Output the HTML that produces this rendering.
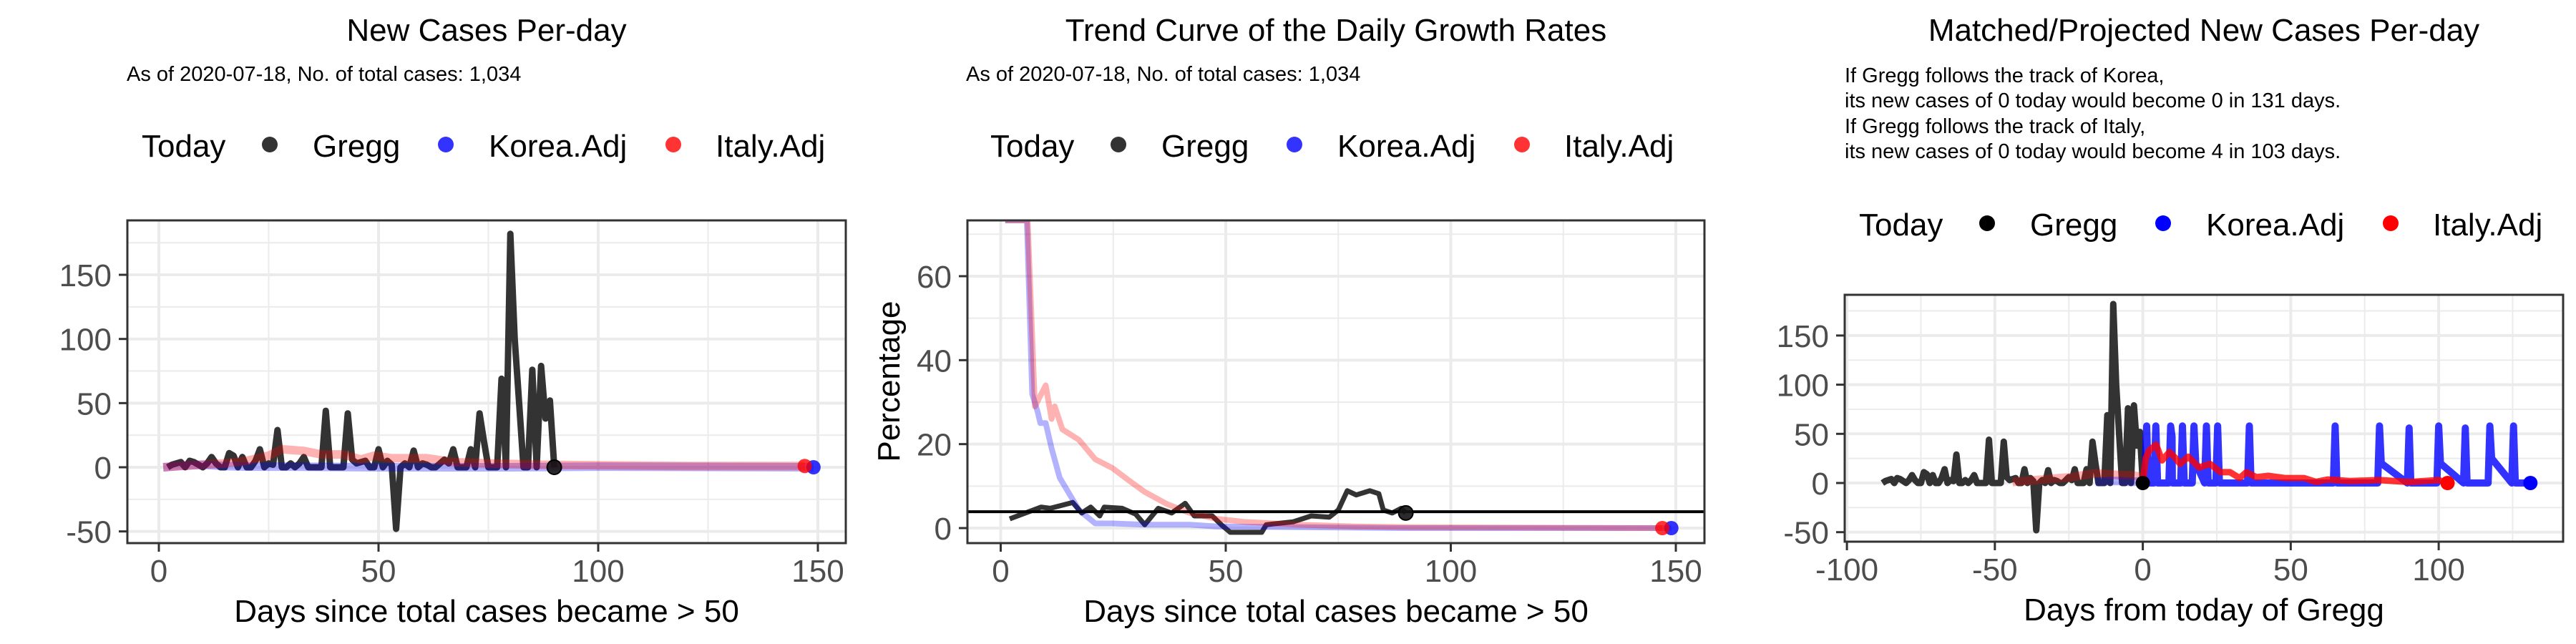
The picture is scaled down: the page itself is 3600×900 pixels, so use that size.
<!DOCTYPE html>
<html><head><meta charset="utf-8">
<style>
html,body{margin:0;padding:0;background:#fff;}
svg{display:block;font-family:"Liberation Sans",Arial,sans-serif;}
</style></head>
<body>
<svg id="chart" width="3600" height="900" viewBox="0 0 3600 900" xmlns="http://www.w3.org/2000/svg">
<defs>
<clipPath id="c1"><rect x="178" y="308" width="1004" height="451"/></clipPath>
<clipPath id="c2"><rect x="1352" y="308" width="1030" height="451"/></clipPath>
<clipPath id="c3"><rect x="2578" y="412" width="1004" height="345"/></clipPath>
</defs>
<text x="680" y="57" font-size="44" text-anchor="middle">New Cases Per-day</text>
<text x="177" y="113" font-size="29">As of 2020-07-18, No. of total cases: 1,034</text>
<text x="1867" y="57" font-size="44" text-anchor="middle">Trend Curve of the Daily Growth Rates</text>
<text x="1350" y="113" font-size="29">As of 2020-07-18, No. of total cases: 1,034</text>
<text x="3080" y="57" font-size="44" text-anchor="middle">Matched/Projected New Cases Per-day</text>
<g font-size="29">
<text x="2578" y="115">If Gregg follows the track of Korea,</text>
<text x="2578" y="150">its new cases of 0 today would become 0 in 131 days.</text>
<text x="2578" y="186">If Gregg follows the track of Italy,</text>
<text x="2578" y="221">its new cases of 0 today would become 4 in 103 days.</text>
</g>
<g id="layer"></g>
</svg>
<script>
// ---- data ----
const greggStartDay = 2;
const greggCases = [0,2,3,4,0,5,4,2,0,3,8,3,0,0,11,9,0,8,0,0,5,14,0,3,2,29,0,0,3,0,3,8,0,0,0,0,44,0,0,0,0,42,6,3,4,5,0,0,14,0,5,2,-48,0,3,0,13,0,3,2,0,0,3,6,3,14,0,0,0,14,0,42,20,0,0,0,69,0,182,100,50,0,0,76,0,79,38,52,0];
const koreaAdjDays = [1,5,10,15,20,30,50,80,100,149];
const koreaAdjCases = [0,1,2,1,0.5,0.5,0,0,0.5,0];
const italyAdjDays = [1,5,10,15,20,25,28,33,37,42,46,49,53,61,67,75,86,100,120,147];
const italyAdjCases = [0,1,2,3,5,9,14,12.7,10,10,6,9,7,7,4,3,2,1.5,1,1];

const greggRateDays = [2,9,11,16,18,20,22,23,27,30,32,35,38,41,43,47,49,51,58,59,65,69,73,75,77,79,82,84,85,87,89,90];
const greggRates = [2.2,5,4.7,6.1,3.6,5,2.9,5,4.7,3.3,0.8,4.7,3.6,5.9,2.9,2.9,0.8,-1,-1,0.8,1.5,2.9,2.6,4.3,8.9,7.9,8.9,8.2,4.3,3.6,4.7,3.6];
const italyRateDays = [1,6,7.6,10,11.3,12,13.7,17.4,21,24.8,28.4,32,37,42,48,54,66,79,91,120,147];
const italyRates = [120,120,29,34,26,29,23.5,21,16.4,14.3,11.4,8.6,5.7,3.6,2.2,1.5,0.8,0.4,0.2,0.1,0];
const koreaRateDays = [1,5.8,7,8.2,8.8,10,11.3,13.1,15,17.4,21,24.8,32,42,48,90,149];
const koreaRates = [120,120,32,27.7,25,25,19,12,8.6,4.3,1.1,1.1,0.8,0.8,0.4,0,0];
const refRate = 3.9;

const koreaProjDays = [0,0.6,1.3,1.9,3.8,4.4,4.8,5,8.8,9.4,9.9,10,12.8,13.4,14,16.7,17.3,17.9,20.9,21.5,22.1,24.7,25.3,25.9,35.4,36,36.6,64.4,65,65.6,79.4,80,80.6,89.4,90,90.6,99.4,100,100.6,108.4,109,109.6,116.7,117.3,117.9,124.7,125.3,125.9,131];
const koreaProj =     [0,0,58,0,0,58,20,0,0,58,47,0,0,58,0,0,58,20,0,58,0,0,58,0,0,58,0,0,58,0,0,58,20,0,56,0,0,58,20,0,56,0,0,58,25,0,58,0,0];
const italyProjDays = [0,1,2.1,4.5,6.5,9,11,12.6,15.4,19,22.7,26.3,29.5,32.7,35,38.4,42.4,48,54.5,58.5,62.6,70,80,90,100,103];
const italyProj =     [0,25,33,39,23,31.5,25.5,19.4,26.7,15.8,19.4,11,11,5,11,6,7.3,5,5,1.2,3.6,2,3,1,3,0];
const italyMatchDays = [-44,-40,-36,-32,-28,-24,-20,-16,-12,-8,-4,0];
const italyMatch = [1,2,3,4,5,6,8,10,9,8,8,6];
const koreaMatchDays = [-16,-12,-8,-4,0];
const koreaMatch = [1,2,2,1,2];
const todayProj = 0;

const y1Ticks = [-50,0,50,100,150], y1Minor=[-25,25,75,125,175];
const x1Ticks = [0,50,100,150], x1Minor=[25,75,125];
const y2Ticks = [0,20,40,60], y2Minor=[10,30,50,70];
const y3Ticks = [-50,0,50,100,150], y3Minor=[-25,25,75,125,175];
const x3Ticks = [-100,-50,0,50,100], x3Minor=[-75,-25,25,75,125];

// ---- helpers ----
const NS='http://www.w3.org/2000/svg';
const layer=document.getElementById('layer');
function mk(tag,attrs,parent){const e=document.createElementNS(NS,tag);for(const k in attrs)e.setAttribute(k,attrs[k]);(parent||layer).appendChild(e);return e;}

const P1={l:178,r:1182,t:308,b:759,x0:222,xs:6.14,y0:653,ys:1.793,clip:'c1'};
const P2={l:1352,r:2382,t:308,b:759,x0:1398.5,xs:6.29,y0:738,ys:5.867,clip:'c2'};
const P3={l:2578,r:3582,t:412,b:757,x0:2994.6,xs:4.135,y0:675,ys:1.374,clip:'c3'};
const px=(P,v)=>P.x0+v*P.xs;
const py=(P,v)=>P.y0-v*P.ys;

function panel(P,name,xT,xM,yT,yM){
  const g=mk('g',{});
  
  
  yM.forEach(v=>mk('line',{x1:P.l,x2:P.r,y1:py(P,v),y2:py(P,v),stroke:'#ebebeb','stroke-width':2},g));
  xM.forEach(v=>mk('line',{x1:px(P,v),x2:px(P,v),y1:P.t,y2:P.b,stroke:'#ebebeb','stroke-width':2},g));
  yT.forEach(v=>mk('line',{x1:P.l,x2:P.r,y1:py(P,v),y2:py(P,v),stroke:'#ebebeb','stroke-width':4},g));
  xT.forEach(v=>mk('line',{x1:px(P,v),x2:px(P,v),y1:P.t,y2:P.b,stroke:'#ebebeb','stroke-width':4},g));
  const ax=mk('g',{});
  
  
  yT.forEach(v=>{
    mk('line',{x1:P.l-12,x2:P.l,y1:py(P,v),y2:py(P,v),stroke:'#333','stroke-width':3},ax);
    const t=mk('text',{x:P.l-22,y:py(P,v)+16,'font-size':44,'text-anchor':'end',fill:'#4d4d4d'},ax);
    
    
    t.textContent=v;
  });
  xT.forEach(v=>{
    mk('line',{x1:px(P,v),x2:px(P,v),y1:P.b,y2:P.b+12,stroke:'#333','stroke-width':3},ax);
    const t=mk('text',{x:px(P,v),y:P.b+54,'font-size':44,'text-anchor':'middle',fill:'#4d4d4d'},ax);
    
    
    t.textContent=v;
  });
}
function border(P,name){
  const r=mk('rect',{x:P.l,y:P.t,width:P.r-P.l,height:P.b-P.t,fill:'none',stroke:'#333','stroke-width':3});
  
  
}
function line(P,xs,ys,color,w,name,clampMax){
  const pts=xs.map((x,i)=>{let v=ys[i];if(clampMax!==undefined&&v>clampMax)v=clampMax;return px(P,x).toFixed(1)+','+py(P,v).toFixed(1);}).join(' ');
  const e=mk('polyline',{points:pts,fill:'none',stroke:color,'stroke-width':w,'stroke-linejoin':'round','stroke-linecap':'butt','clip-path':'url(#'+P.clip+')'});
  
  
  return e;
}
function dot(P,x,y,color,name,stroke){
  const e=mk('circle',{cx:px(P,x),cy:py(P,y),r:10,fill:color,stroke:stroke||'none','stroke-width':2});
  
  
}
function legend(dx,yb,yd,solid){
  const g=mk('g',{'font-size':44});
  
  
  const t=mk('text',{x:198+dx,y:yb},g);t.textContent='Today';
  
  
  const items=[['Gregg',solid?'#000':'#333',377,437],['Korea.Adj',solid?'#00f':'rgba(0,0,255,0.8)',623,683],['Italy.Adj',solid?'#f00':'rgba(255,0,0,0.8)',941,1000]];
  items.forEach(it=>{
    const c=mk('circle',{cx:it[2]+dx,cy:yd,r:11,fill:it[1]},g);
    
    
    const l=mk('text',{x:it[3]+dx,y:yb},g);l.textContent=it[0];
    
    
  });
}

// ---- panel 1 ----
panel(P1,'panel1',x1Ticks,x1Minor,y1Ticks,y1Minor);
const gDays=greggCases.map((_,i)=>greggStartDay+i);
line(P1,gDays,greggCases,'#333',9,'gregg-cases-line');
line(P1,koreaAdjDays,koreaAdjCases,'rgba(0,0,255,0.3)',12,'korea-adj-line');
line(P1,italyAdjDays,italyAdjCases,'rgba(255,0,0,0.3)',12,'italy-adj-line');
dot(P1,gDays[gDays.length-1],greggCases[greggCases.length-1],'rgba(20,20,20,0.9)','gregg-today-point','#000');
dot(P1,koreaAdjDays[koreaAdjDays.length-1],koreaAdjCases[koreaAdjCases.length-1],'rgba(0,0,255,0.8)','korea-today-point');
dot(P1,italyAdjDays[italyAdjDays.length-1],italyAdjCases[italyAdjCases.length-1],'rgba(255,0,0,0.8)','italy-today-point');
border(P1,'panel1');
legend(0,219,202,false);
let at=mk('text',{x:680,y:869,'font-size':44,'text-anchor':'middle'});at.textContent='Days since total cases became > 50';



// ---- panel 2 ----
panel(P2,'panel2',x1Ticks,x1Minor,y2Ticks,y2Minor);
const ymax2=(P2.y0-P2.t)/P2.ys;
line(P2,greggRateDays,greggRates,'#333',7,'gregg-growth-line');
line(P2,koreaRateDays,koreaRates,'rgba(0,0,255,0.3)',8,'korea-growth-line',ymax2);
line(P2,italyRateDays,italyRates,'rgba(255,0,0,0.3)',8,'italy-growth-line',ymax2);
const rl=mk('line',{x1:P2.l,x2:P2.r,y1:py(P2,refRate),y2:py(P2,refRate),stroke:'#000','stroke-width':4});


dot(P2,greggRateDays[greggRateDays.length-1],greggRates[greggRates.length-1],'rgba(20,20,20,0.9)','gregg-rate-point','#000');
dot(P2,koreaRateDays[koreaRateDays.length-1],koreaRates[koreaRates.length-1],'rgba(0,0,255,0.8)','korea-rate-point');
dot(P2,italyRateDays[italyRateDays.length-1],italyRates[italyRates.length-1],'rgba(255,0,0,0.8)','italy-rate-point');
border(P2,'panel2');
legend(1186,219,202,false);
at=mk('text',{x:1867,y:869,'font-size':44,'text-anchor':'middle'});at.textContent='Days since total cases became > 50';


at=mk('text',{x:1257,y:533,'font-size':44,'text-anchor':'middle',transform:'rotate(-90 1257 533)'});at.textContent='Percentage';



// ---- panel 3 ----
panel(P3,'panel3',x3Ticks,x3Minor,y3Ticks,y3Minor);
const lastDay=gDays[gDays.length-1];
line(P3,gDays.map(d=>d-lastDay),greggCases,'#333',9,'gregg-history-line');
line(P3,italyMatchDays,italyMatch,'rgba(255,0,0,0.3)',12,'italy-matched-line');
line(P3,koreaMatchDays,koreaMatch,'rgba(0,0,255,0.3)',12,'korea-matched-line');
line(P3,koreaProjDays,koreaProj,'rgba(0,0,255,0.8)',10,'korea-projected-line');
line(P3,italyProjDays,italyProj,'rgba(255,0,0,0.8)',9,'italy-projected-line');
dot(P3,0,todayProj,'#000','gregg-today-point');
dot(P3,italyProjDays[italyProjDays.length-1],italyProj[italyProj.length-1],'#f00','italy-projected-end-point');
dot(P3,koreaProjDays[koreaProjDays.length-1],koreaProj[koreaProj.length-1],'#00f','korea-projected-end-point');
border(P3,'panel3');
legend(2400,329,312,true);
at=mk('text',{x:3080,y:867,'font-size':44,'text-anchor':'middle'});at.textContent='Days from today of Gregg';


</script>
</body></html>
